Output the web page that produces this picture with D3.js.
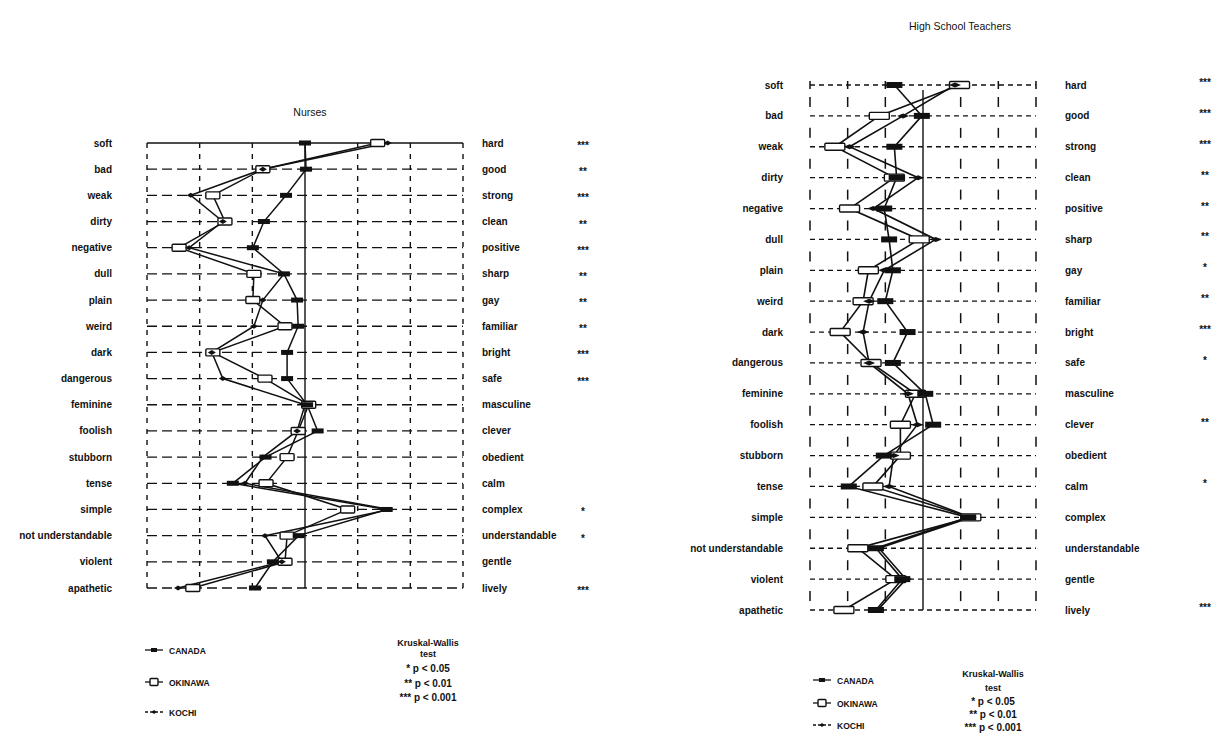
<!DOCTYPE html>
<html>
<head>
<meta charset="utf-8">
<script src="https://cdn.jsdelivr.net/npm/d3@7"></script>
<style>
  html, body { margin: 0; padding: 0; background: #fff; }
  svg { display: block; }
  text { font-family: "Liberation Sans", Arial, sans-serif; fill: #111; }
</style>
</head>
<body>
<svg id="chart" width="1231" height="739"></svg>
<script>
// ---------- DATA ----------
const leftAnchors = ["soft","bad","weak","dirty","negative","dull","plain","weird","dark","dangerous","feminine","foolish","stubborn","tense","simple","not understandable","violent","apathetic"];
const rightAnchors = ["hard","good","strong","clean","positive","sharp","gay","familiar","bright","safe","masculine","clever","obedient","calm","complex","understandable","gentle","lively"];
const scaleTicks = [1, 2, 3, 4, 5, 6, 7];

const nurseStars = ["***","**","***","**","***","**","**","**","***","***","","","","","*","*","","***"];
const teacherStars = ["***","***","***","**","**","**","*","**","***","*","","**","","*","","","","***"];

const nurseCanada   = [4.00, 4.02, 3.64, 3.22, 3.01, 3.60, 3.85, 3.87, 3.66, 3.66, 4.04, 4.24, 3.25, 2.63, 5.55, 3.88, 3.39, 3.05];
const nurseOkinawa  = [5.38, 3.20, 2.25, 2.48, 1.61, 3.03, 3.01, 3.62, 2.25, 3.24, 4.07, 3.87, 3.66, 3.26, 4.81, 3.66, 3.62, 1.87];
const nurseKochi    = [5.57, 3.20, 1.83, 2.44, 1.80, 3.60, 3.20, 3.03, 2.23, 2.44, 4.00, 3.85, 3.20, 2.86, 5.61, 3.24, 3.56, 1.59];

const teacherCanada  = [3.24, 3.97, 3.24, 3.30, 2.97, 3.10, 3.20, 3.00, 3.59, 3.20, 4.06, 4.27, 2.96, 2.03, 5.20, 2.75, 3.45, 2.75];
const teacherOkinawa = [4.97, 2.84, 1.66, 3.24, 2.05, 3.90, 2.55, 2.41, 1.80, 2.62, 3.80, 3.40, 3.40, 2.67, 5.27, 2.27, 3.28, 1.90];
const teacherKochi   = [4.85, 3.47, 2.05, 3.87, 2.68, 4.34, 2.97, 2.57, 2.41, 2.57, 3.60, 3.85, 3.22, 3.10, 5.27, 2.83, 3.55, 2.80];

const seriesNames = ["CANADA", "OKINAWA", "KOCHI"];
const legendTitle = ["Kruskal-Wallis", "test", "* p < 0.05", "** p < 0.01", "*** p < 0.001"];

// ---------- DRAW ----------
const svg = d3.select("#chart");

function drawMarker(g, type, x, y, size) {
  // size: "small" (legend), "mid" (nurses), "big" (teachers)
  const dims = {
    CANADA:  { small: [6, 4], mid: [12, 5], big: [16, 6] },
    OKINAWA: { small: [8, 7], mid: [14, 7], big: [20, 7] },
    KOCHI:   { small: [5, 4], mid: [8, 5],  big: [12, 5] }
  }[type][size];
  const [w, h] = dims;
  if (type === "CANADA") {
    g.append("rect").attr("x", x - w/2).attr("y", y - h/2).attr("width", w).attr("height", h)
      .attr("fill", "#111");
  } else if (type === "OKINAWA") {
    g.append("rect").attr("x", x - w/2).attr("y", y - h/2).attr("width", w).attr("height", h)
      .attr("fill", "#fff").attr("stroke", "#111").attr("stroke-width", 1.4).attr("rx", 1);
  } else {
    g.append("path").attr("d", `M${x - w/2},${y} L${x},${y - h/2} L${x + w/2},${y} L${x},${y + h/2} Z`)
      .attr("fill", "#111");
  }
}

function drawPanel(cfg) {
  const g = svg.append("g");
  const x = d3.scaleLinear().domain([1, 7]).range(cfg.xRange);
  const y = d3.scalePoint().domain(leftAnchors).range(cfg.yRange);
  const yTop = y(leftAnchors[0]), yBot = y(leftAnchors[leftAnchors.length - 1]);
  const step = y.step();

  // title
  g.append("text").attr("x", cfg.titlePos[0]).attr("y", cfg.titlePos[1])
    .attr("text-anchor", "middle").attr("font-size", 10.5).text(cfg.title);

  // horizontal grid
  leftAnchors.forEach((a, i) => {
    const line = g.append("line").attr("x1", x(1)).attr("x2", x(7))
      .attr("y1", y(a)).attr("y2", y(a)).attr("stroke", "#111").attr("stroke-width", 1.3);
    if (!(cfg.solidTop && i === 0)) line.attr("stroke-dasharray", cfg.hDash);
  });

  // vertical grid
  scaleTicks.forEach(t => {
    if (t === 4) {
      g.append("line").attr("x1", x(t)).attr("x2", x(t)).attr("y1", yTop + cfg.centerStart).attr("y2", yBot)
        .attr("stroke", "#111").attr("stroke-width", 1.4);
    } else if (cfg.tickGrid) {
      for (let i = 0; i < leftAnchors.length - 1; i++) {
        const ym = y(leftAnchors[i]) + step * 0.55;
        g.append("line").attr("x1", x(t)).attr("x2", x(t)).attr("y1", ym - 5).attr("y2", ym + 5)
          .attr("stroke", "#111").attr("stroke-width", 1.5);
      }
      g.append("line").attr("x1", x(t)).attr("x2", x(t)).attr("y1", yTop - 4).attr("y2", yTop + 4)
        .attr("stroke", "#111").attr("stroke-width", 1.5);
    } else {
      g.append("line").attr("x1", x(t)).attr("x2", x(t)).attr("y1", yTop).attr("y2", yBot)
        .attr("stroke", "#111").attr("stroke-width", 1.4).attr("stroke-dasharray", cfg.vDash);
    }
  });

  // labels
  leftAnchors.forEach((a, i) => {
    g.append("text").attr("x", cfg.leftLabelX).attr("y", y(a) + 3.5).attr("text-anchor", "end")
      .attr("font-size", 10).attr("font-weight", cfg.labelWeight).text(a);
    g.append("text").attr("x", cfg.rightLabelX).attr("y", y(a) + 3.5)
      .attr("font-size", 10).attr("font-weight", cfg.labelWeight).text(rightAnchors[i]);
    if (cfg.stars[i]) {
      g.append("text").attr("x", cfg.starX).attr("y", y(a) + cfg.starDy).attr("text-anchor", "middle")
        .attr("font-size", 10).attr("font-weight", "bold").text(cfg.stars[i]);
    }
  });

  // series lines
  const lineGen = d3.line().x(d => x(d.v)).y(d => y(d.a));
  cfg.series.forEach(s => {
    const pts = s.values.map((v, i) => ({ v, a: leftAnchors[i] }));
    g.append("path").datum(pts).attr("d", lineGen).attr("fill", "none")
      .attr("stroke", "#111").attr("stroke-width", cfg.markerSize === "big" ? 1.6 : 1.5);
  });
  // markers: Okinawa, Canada, Kochi
  ["OKINAWA", "CANADA", "KOCHI"].forEach(name => {
    const s = cfg.series.find(d => d.name === name);
    s.values.forEach((v, i) => drawMarker(g, name, x(v), y(leftAnchors[i]), cfg.markerSize));
  });

  // legend
  const lg = g.append("g");
  seriesNames.forEach((name, i) => {
    const ly = cfg.legendY[i];
    const lx = cfg.legendX;
    lg.append("line").attr("x1", lx - 9).attr("x2", lx + 9).attr("y1", ly).attr("y2", ly)
      .attr("stroke", "#111").attr("stroke-width", 1.3).attr("stroke-dasharray", name === "KOCHI" ? "3,2" : null);
    drawMarker(lg, name, lx, ly, "small");
    lg.append("text").attr("x", lx + 15).attr("y", ly + 3.5).attr("font-size", 8.5)
      .attr("font-weight", "bold").text(name);
  });
  legendTitle.forEach((t, i) => {
    lg.append("text").attr("x", cfg.kwX).attr("y", cfg.kwY[i]).attr("text-anchor", "middle")
      .attr("font-size", i < 2 ? 9 : 10).attr("font-weight", "bold").text(t);
  });
}

drawPanel({
  title: "Nurses", titlePos: [310, 116],
  xRange: [147, 463], yRange: [143, 588],
  solidTop: true, tickGrid: false, hDash: "10,5", vDash: "5,6", centerStart: 0,
  leftLabelX: 112, rightLabelX: 482, starX: 583, starDy: 6, stars: nurseStars,
  labelWeight: "bold", markerSize: "mid",
  series: [
    { name: "CANADA", values: nurseCanada },
    { name: "OKINAWA", values: nurseOkinawa },
    { name: "KOCHI", values: nurseKochi }
  ],
  legendX: 154, legendY: [650, 682, 712],
  kwX: 428, kwY: [646, 657, 672, 687, 701]
});

drawPanel({
  title: "High School Teachers", titlePos: [960, 30],
  xRange: [810, 1036], yRange: [85, 610],
  solidTop: false, tickGrid: true, hDash: "5,4", vDash: "5,6", centerStart: 5,
  leftLabelX: 783, rightLabelX: 1065, starX: 1205, starDy: 1, stars: teacherStars,
  labelWeight: "600", markerSize: "big",
  series: [
    { name: "CANADA", values: teacherCanada },
    { name: "OKINAWA", values: teacherOkinawa },
    { name: "KOCHI", values: teacherKochi }
  ],
  legendX: 822, legendY: [680, 703, 725],
  kwX: 993, kwY: [677, 691, 705, 718, 731]
});
</script>
</body>
</html>
